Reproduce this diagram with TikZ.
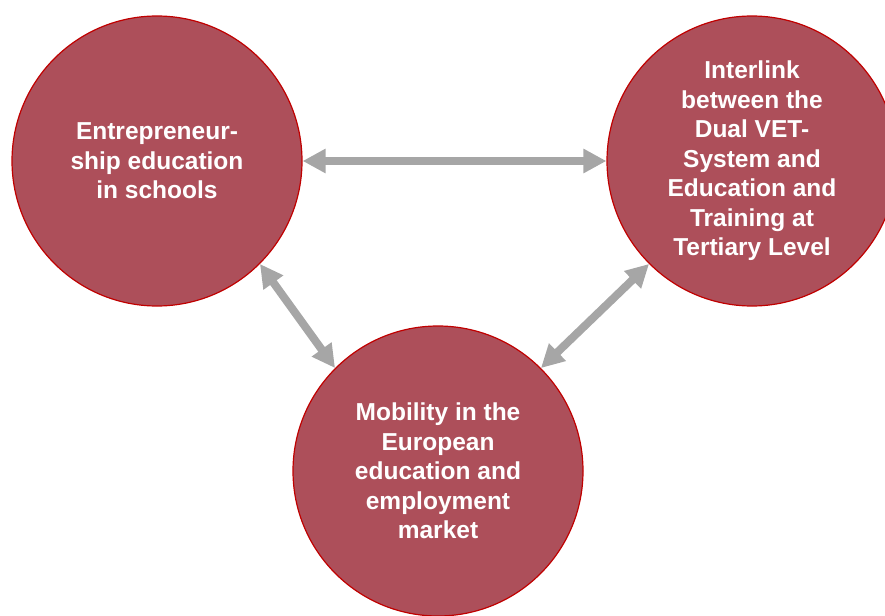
\documentclass[tikz,border=0pt]{standalone}
\usepackage{fontspec}
\setmainfont{Liberation Sans}
\usetikzlibrary{arrows.meta}
\definecolor{circfill}{HTML}{AD4F5A}
\definecolor{circline}{HTML}{C00000}
\definecolor{linkgray}{HTML}{A6A6A6}
\begin{document}
\begin{tikzpicture}[x=1pt,y=-1pt,
  circ/.style = {circle,draw=circline,line width=1.2pt,fill=circfill,
        minimum size=290pt,inner sep=0pt,text=white,
        font=\fontsize{24.5}{29.5}\selectfont\bfseries,align=center},
  link/.style = {draw=linkgray,line width=8pt,
        {Triangle[length=23pt,width=23pt]}-{Triangle[length=23pt,width=23pt]}}]
 \useasboundingbox (0,0) rectangle (885,615);
 \node[circ] (c1) at (157,161) {Entrepreneur-\\ship education\\in schools};
 \node[circ] (c2) at (752,161) {Interlink\\between the\\Dual VET-\\System and\\Education and\\Training at\\Tertiary Level};
 \node[circ] (c3) at (438,471) {Mobility in the\\European\\education and\\employment\\market};
 \begin{scope}[link]
  \path
  (c1) edge (c2)
  (c1.-45) edge (c3.135)
  (c3.45) edge (c2.-135);
 \end{scope}
\end{tikzpicture}
\end{document}
